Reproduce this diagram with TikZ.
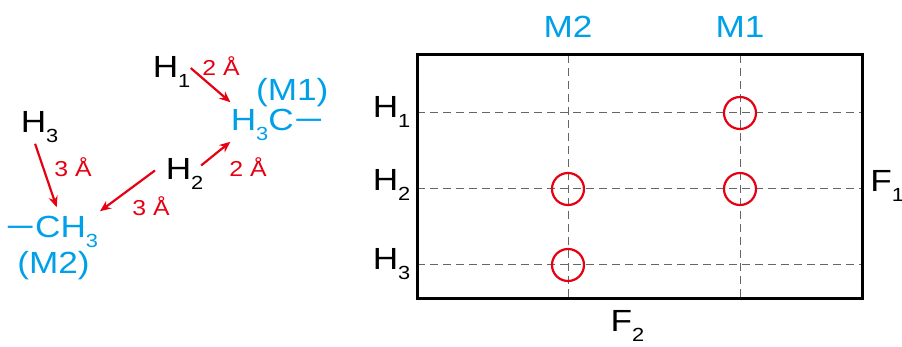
\documentclass[tikz,border=0pt]{standalone}
\usepackage{fontspec}
\setmainfont{Liberation Sans}[FakeStretch=1.15]
\usepackage{tikz}
\usetikzlibrary{arrows.meta,positioning}
\definecolor{methylblue}{RGB}{0,160,233}
\definecolor{noered}{RGB}{230,0,18}
\newcommand{\lowidx}[1]{\raisebox{-4.6pt}{\fontsize{9.5}{10}\selectfont #1}}
\newcommand{\bond}{\scalebox{1.45}[1]{−}}

\begin{document}
\begin{tikzpicture}[x=0.5pt, y=-0.5pt, >={Stealth[length=5.5pt,width=4.6pt]},
    atom/.style={anchor=base west, inner sep=0pt, font=\fontsize{15.3}{18}\selectfont},
    methyl/.style={atom, text=methylblue},
    dist/.style={anchor=base west, inner sep=0pt, font=\fontsize{10.8}{12}\selectfont, text=noered},
    noe/.style={->, draw=noered, line width=1.1pt},
    gridline/.style={dash pattern=on 4pt off 2.5pt, draw=black!60, line width=0.5pt},
    peak/.style={circle, draw=noered, line width=1.1pt, inner sep=0pt, minimum size=16pt}]
        \useasboundingbox (0,0) rectangle (902,347);

        % Protons and methyl groups
        \node[atom] (h1) at (152.4,78) {H\lowidx{1}};
        \node[atom] (h2) at (165.4,180) {H\lowidx{2}};
        \node[atom] (h3) at (20.4,133) {H\lowidx{3}};
        \node[methyl] (m1) at (230.4,131) {H\lowidx{3}C\bond};
        \node[methyl] (m2) at (4.9,238) {\bond CH\lowidx{3}};
        \node[methyl] (m1name) at (255.7,101) {(M1)};
        \node[methyl] (m2name) at (17,274) {(M2)};

        % NOE contacts
        \draw[noe] ([shift={(0,-4)}]h1.east) -- ([shift={(0,-7)}]m1.north west);
        \draw[noe] ([shift={(-2.6,-8.6)}]h2.east) -- ([shift={(0,1)}]m1.south west);
        \draw[noe] ([shift={(-10.4,-3.6)}]h2.west) -- ([shift={(1.5,-5)}]m2.north east);
        \draw[noe] ([shift={(-4.5,1)}]h3.south) -- ([shift={(5,-9)}]m2.north);
        \node[dist] (d1) at (202,76) {2 Å};
        \node[dist] (d2) at (229,177) {2 Å};
        \node[dist] (d3) at (54,177) {3 Å};
        \node[dist] (d4) at (132,216) {3 Å};

        % Spectrum grid
        \foreach \y in {113,189,265}
            \draw[gridline] (417,\y) -- (862,\y);
        \foreach \x in {568,740}
            \draw[gridline] (\x,55) -- (\x,299);

        % Cross peaks
        \node[peak] (p11) at (740,113) {};
        \node[peak] (p21) at (740,189) {};
        \node[peak] (p22) at (568,189) {};
        \node[peak] (p32) at (568,265) {};

        % Frame
        \draw[line width=1.5pt] (417,55) rectangle (862,299);

        % Axis labels
        \node[methyl, anchor=base] (colm2) at (568,38) {M2};
        \node[methyl, anchor=base] (colm1) at (740,38) {M1};
        \node[atom] (rowh1) at (372.4,118) {H\lowidx{1}};
        \node[atom] (rowh2) at (372.4,191) {H\lowidx{2}};
        \node[atom] (rowh3) at (372.4,270) {H\lowidx{3}};
        \node[atom] (f1) at (870,192) {F\lowidx{1}};
        \node[atom] (f2) at (610.3,332) {F\lowidx{2}};
    \end{tikzpicture}
\end{document}
